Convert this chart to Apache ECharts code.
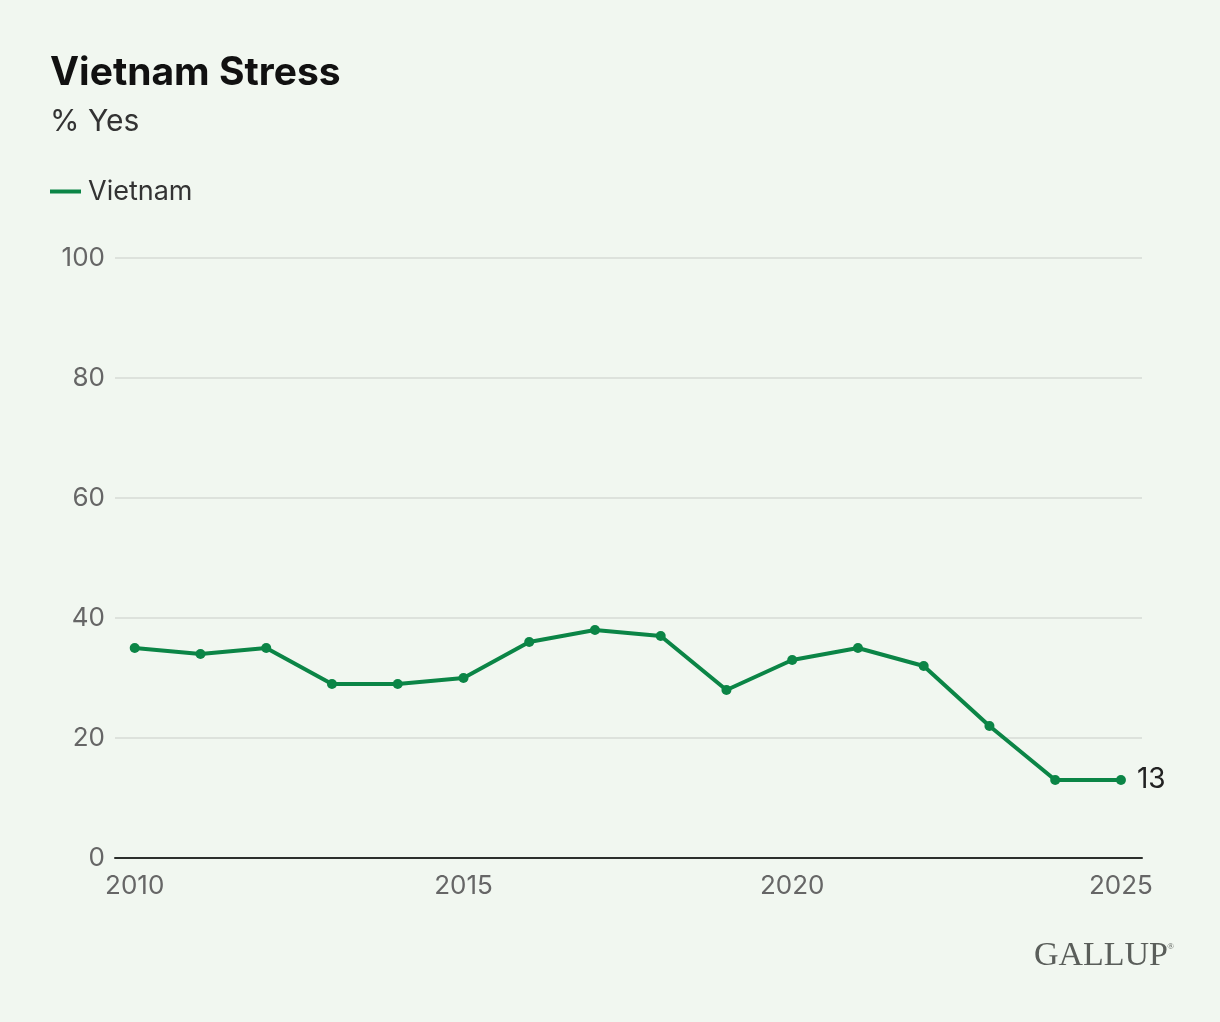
<!DOCTYPE html>
<html>
<head>
<meta charset="utf-8">
<script src="https://cdn.jsdelivr.net/npm/echarts@6/dist/echarts.min.js"></script>
<style>
html,body{margin:0;padding:0;background:#f1f7f0;}
#c{width:1220px;height:1022px;}
</style>
</head>
<body>
<div id="c"></div>
<script>
const years = [2010,2011,2012,2013,2014,2015,2016,2017,2018,2019,2020,2021,2022,2023,2024,2025];
const vietnam = [35,34,35,29,29,30,36,38,37,28,33,35,32,22,13,13];
const xTicks = [2010,2015,2020,2025];

const chart = echarts.init(document.getElementById('c'), null, {renderer:'canvas'});
const green = '#0b8546';
const font = 'Inter, "Noto Sans", sans-serif';
chart.setOption({
  backgroundColor:'#f1f7f0',
  animation:false,
  title:[
    {text:'Vietnam Stress', left:45, top:49, padding:5, textStyle:{fontFamily:font, fontSize:39, fontWeight:'bold', color:'#111'}},
    {text:'% Yes', left:45, top:102, padding:5, textStyle:{fontFamily:font, fontSize:30, fontWeight:'normal', color:'#333'}}
  ],
  legend:{
    left:45, top:173, itemWidth:31, itemHeight:4, itemGap:10,
    icon:'rect',
    textStyle:{fontFamily:font, fontSize:27, color:'#333', padding:[0,0,0,2]},
    data:[{name:'Vietnam', icon:'rect'}]
  },
  grid:{left:115, right:78, top:258, bottom:164, containLabel:false},
  xAxis:{
    type:'value', min:2009.7, max:2025.32,
    axisLine:{show:true, lineStyle:{color:'#2c2f2c', width:2}},
    axisTick:{show:false},
    splitLine:{show:false},
    axisLabel:{customValues:xTicks, formatter:v=>String(v), fontFamily:font, fontSize:26, color:'#666', margin:15}
  },
  yAxis:{
    type:'value', min:0, max:100, interval:20,
    axisLine:{show:false}, axisTick:{show:false},
    splitLine:{lineStyle:{color:'#d6dbd6', width:1.5}},
    axisLabel:{fontFamily:font, fontSize:26, color:'#666', margin:10}
  },
  series:[{
    name:'Vietnam', type:'line',
    data: years.map((y,i)=>[y, vietnam[i]]),
    color:green,
    lineStyle:{width:4, color:green},
    symbol:'circle', symbolSize:10,
    itemStyle:{color:green},
    label:{show:true, formatter:p=> p.dataIndex===years.length-1 ? String(p.value[1]) : '', position:'right', distance:11, fontFamily:font, fontSize:28, color:'#222'},
    z:3
  }],
  graphic:[{
    type:'text', right:52, top:939,
    style:{text:'GALLUP', font:'34px "Liberation Serif", "DejaVu Serif", serif', fill:'#5a5e5a'}
  },{
    type:'text', right:46, top:942,
    style:{text:'®', font:'9px "Liberation Serif", serif', fill:'#5a5e5a'}
  }]
});
</script>
</body>
</html>
